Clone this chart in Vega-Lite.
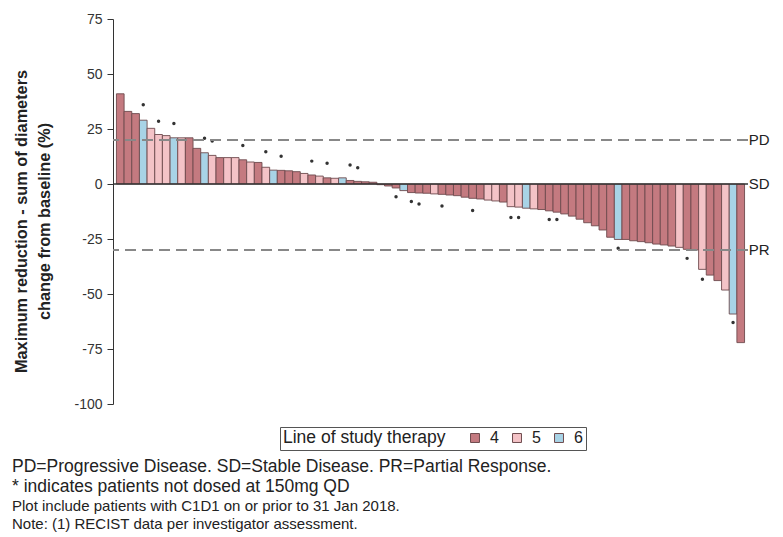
{
  "$schema": "https://vega.github.io/schema/vega-lite/v6.json",
  "width": 635,
  "height": 385,
  "autosize": {"type": "none"},
  "padding": {"left": 113, "top": 19, "right": 35, "bottom": 133},
  "background": "white",
  "config": {
    "font": "Liberation Sans",
    "view": {"stroke": null}
  },
  "title": {
    "text": ["PD=Progressive Disease. SD=Stable Disease. PR=Partial Response.", "* indicates patients not dosed at 150mg QD"],
    "subtitle": ["Plot include patients with C1D1 on or prior to 31 Jan 2018.", "Note: (1) RECIST data per investigator assessment."],
    "orient": "bottom",
    "anchor": "start",
    "frame": "group",
    "offset": 7,
    "dx": -101,
    "fontSize": 17.5,
    "fontWeight": "normal",
    "color": "#222",
    "lineHeight": 20,
    "subtitleFontSize": 15,
    "subtitleColor": "#222",
    "subtitleLineHeight": 18,
    "subtitlePadding": 4
  },
  "datasets": {
    "bars": [
      {"id": 1, "value": 41, "line": "4", "star": null},
      {"id": 2, "value": 33, "line": "4", "star": null},
      {"id": 3, "value": 32, "line": "4", "star": null},
      {"id": 4, "value": 29, "line": "6", "star": 36},
      {"id": 5, "value": 25.3, "line": "5", "star": null},
      {"id": 6, "value": 22.5, "line": "5", "star": 28.5},
      {"id": 7, "value": 22, "line": "5", "star": null},
      {"id": 8, "value": 21, "line": "6", "star": 27.5},
      {"id": 9, "value": 21, "line": "5", "star": null},
      {"id": 10, "value": 21, "line": "4", "star": null},
      {"id": 11, "value": 16.2, "line": "4", "star": null},
      {"id": 12, "value": 14.2, "line": "6", "star": 20.8},
      {"id": 13, "value": 13, "line": "5", "star": 19.5},
      {"id": 14, "value": 12, "line": "4", "star": null},
      {"id": 15, "value": 12, "line": "5", "star": null},
      {"id": 16, "value": 12, "line": "5", "star": null},
      {"id": 17, "value": 11, "line": "4", "star": 17.5},
      {"id": 18, "value": 10, "line": "5", "star": null},
      {"id": 19, "value": 9.8, "line": "4", "star": null},
      {"id": 20, "value": 7.6, "line": "5", "star": 14.7},
      {"id": 21, "value": 6.3, "line": "6", "star": null},
      {"id": 22, "value": 6.2, "line": "4", "star": 12.6},
      {"id": 23, "value": 6.0, "line": "4", "star": null},
      {"id": 24, "value": 5.6, "line": "4", "star": null},
      {"id": 25, "value": 4.8, "line": "5", "star": null},
      {"id": 26, "value": 4.1, "line": "4", "star": 10.4},
      {"id": 27, "value": 3.6, "line": "5", "star": null},
      {"id": 28, "value": 2.8, "line": "4", "star": 9.4},
      {"id": 29, "value": 2.6, "line": "5", "star": null},
      {"id": 30, "value": 2.8, "line": "6", "star": null},
      {"id": 31, "value": 1.6, "line": "4", "star": 8.6},
      {"id": 32, "value": 1.2, "line": "4", "star": 7.4},
      {"id": 33, "value": 1.0, "line": "4", "star": null},
      {"id": 34, "value": 0.8, "line": "4", "star": null},
      {"id": 35, "value": -0.3, "line": "4", "star": null},
      {"id": 36, "value": -0.9, "line": "4", "star": null},
      {"id": 37, "value": -1.8, "line": "4", "star": -5.8},
      {"id": 38, "value": -3.0, "line": "6", "star": null},
      {"id": 39, "value": -3.9, "line": "4", "star": -8},
      {"id": 40, "value": -4.1, "line": "4", "star": -9.1},
      {"id": 41, "value": -4.2, "line": "4", "star": null},
      {"id": 42, "value": -4.5, "line": "5", "star": null},
      {"id": 43, "value": -4.7, "line": "4", "star": -10},
      {"id": 44, "value": -5.0, "line": "4", "star": null},
      {"id": 45, "value": -5.3, "line": "4", "star": null},
      {"id": 46, "value": -6.0, "line": "4", "star": null},
      {"id": 47, "value": -6.5, "line": "4", "star": -12},
      {"id": 48, "value": -6.8, "line": "4", "star": null},
      {"id": 49, "value": -7.3, "line": "5", "star": null},
      {"id": 50, "value": -7.7, "line": "5", "star": null},
      {"id": 51, "value": -8.2, "line": "4", "star": null},
      {"id": 52, "value": -10.3, "line": "5", "star": -15.2},
      {"id": 53, "value": -10.5, "line": "5", "star": -15.2},
      {"id": 54, "value": -11, "line": "6", "star": null},
      {"id": 55, "value": -11.3, "line": "5", "star": null},
      {"id": 56, "value": -11.6, "line": "4", "star": null},
      {"id": 57, "value": -12.2, "line": "4", "star": -16.1},
      {"id": 58, "value": -12.8, "line": "4", "star": -16.1},
      {"id": 59, "value": -13.6, "line": "4", "star": null},
      {"id": 60, "value": -14.6, "line": "4", "star": null},
      {"id": 61, "value": -16, "line": "4", "star": null},
      {"id": 62, "value": -17.6, "line": "4", "star": null},
      {"id": 63, "value": -19, "line": "4", "star": null},
      {"id": 64, "value": -20.9, "line": "4", "star": null},
      {"id": 65, "value": -24.2, "line": "4", "star": null},
      {"id": 66, "value": -25.2, "line": "6", "star": -29.2},
      {"id": 67, "value": -25.2, "line": "4", "star": null},
      {"id": 68, "value": -25.8, "line": "4", "star": null},
      {"id": 69, "value": -26.2, "line": "4", "star": null},
      {"id": 70, "value": -26.7, "line": "4", "star": null},
      {"id": 71, "value": -27.3, "line": "4", "star": null},
      {"id": 72, "value": -27.7, "line": "4", "star": null},
      {"id": 73, "value": -28.2, "line": "4", "star": null},
      {"id": 74, "value": -28.8, "line": "5", "star": null},
      {"id": 75, "value": -29.7, "line": "4", "star": -33.8},
      {"id": 76, "value": -30, "line": "4", "star": null},
      {"id": 77, "value": -38.8, "line": "5", "star": -43.3},
      {"id": 78, "value": -41.4, "line": "4", "star": null},
      {"id": 79, "value": -43.9, "line": "4", "star": null},
      {"id": 80, "value": -48.2, "line": "5", "star": null},
      {"id": 81, "value": -59.1, "line": "6", "star": -63},
      {"id": 82, "value": -72.1, "line": "4", "star": null}
    ],
    "refs": [
      {"label": "PD", "y": 20, "kind": "dash"},
      {"label": "SD", "y": 0, "kind": "solid"},
      {"label": "PR", "y": -30, "kind": "dash"}
    ]
  },
  "layer": [
    {
      "data": {"name": "bars"},
      "mark": {"type": "bar", "stroke": "#6e4b4e", "strokeWidth": 0.9},
      "encoding": {
        "x": {"field": "id", "type": "ordinal", "axis": null,
              "scale": {"paddingInner": 0, "paddingOuter": 0.45}},
        "y": {"field": "value", "type": "quantitative",
              "scale": {"domain": [-100, 75], "nice": false, "zero": false},
              "axis": {
                "values": [75, 50, 25, 0, -25, -50, -75, -100],
                "grid": false,
                "domainColor": "#333",
                "tickColor": "#333",
                "tickSize": 6,
                "labelFontSize": 14,
                "labelColor": "#333",
                "labelPadding": 5,
                "labelExpr": "replace(datum.label, '\u2212', '-')",
                "title": ["Maximum reduction - sum of diameters", "change from baseline (%)"],
                "titleFontSize": 16.3,
                "titleFontWeight": "bold",
                "titleColor": "#222",
                "titlePadding": 21,
                "titleLineHeight": 23,
                "titleY": 202
              }},
        "color": {"field": "line", "type": "nominal",
                  "scale": {"domain": ["4", "5", "6"], "range": ["#c47a80", "#f4c3c7", "#a8d3e6"]},
                  "legend": {
                    "title": "Line of study therapy",
                    "orient": "none",
                    "legendX": 167,
                    "legendY": 408,
                    "direction": "horizontal",
                    "titleOrient": "left",
                    "titleFontSize": 17.5,
                    "titleFontWeight": "normal",
                    "titleColor": "#222",
                    "titlePadding": 21,
                    "labelFontSize": 16,
                    "labelColor": "#222",
                    "labelOffset": 7,
                    "columnPadding": 10,
                    "symbolType": "square",
                    "symbolSize": 80,
                    "symbolStrokeColor": "#6e4b4e",
                    "symbolStrokeWidth": 1,
                    "strokeColor": "#555",
                    "padding": 3
                  }}
      }
    },
    {
      "data": {"name": "bars"},
      "transform": [{"filter": "datum.star != null"}],
      "mark": {"type": "point", "filled": true, "shape": "circle", "size": 12, "color": "#333", "opacity": 1},
      "encoding": {
        "x": {"field": "id", "type": "ordinal"},
        "y": {"field": "star", "type": "quantitative"}
      }
    },
    {
      "data": {"name": "refs"},
      "transform": [{"filter": "datum.kind == 'dash'"}],
      "mark": {"type": "rule", "color": "#888", "strokeWidth": 2, "strokeDash": [11, 6]},
      "encoding": {"y": {"field": "y", "type": "quantitative"}}
    },
    {
      "data": {"name": "refs"},
      "transform": [{"filter": "datum.kind == 'solid'"}],
      "mark": {"type": "rule", "color": "#333", "strokeWidth": 1.5},
      "encoding": {"y": {"field": "y", "type": "quantitative"}}
    },
    {
      "data": {"name": "refs"},
      "mark": {"type": "text", "align": "left", "baseline": "middle", "dx": 8, "fontSize": 15, "color": "#222"},
      "encoding": {
        "x": {"datum": 82, "type": "ordinal"},
        "y": {"field": "y", "type": "quantitative"},
        "text": {"field": "label"}
      }
    }
  ]
}
